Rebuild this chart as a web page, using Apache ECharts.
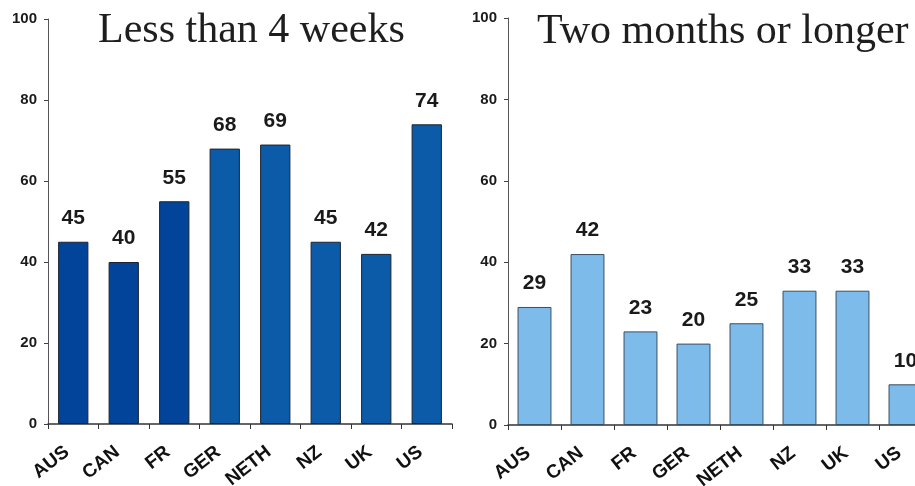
<!DOCTYPE html>
<html>
<head>
<meta charset="utf-8">
<script src="https://cdn.jsdelivr.net/npm/echarts@6/dist/echarts.min.js"></script>
<style>
  html, body { margin: 0; padding: 0; background: #ffffff; overflow: hidden; }
  #chart { width: 915px; height: 486px; }
</style>
</head>
<body>
<div id="chart"></div>
<script>
// Share of respondents by waiting time, per country
const countries = ['AUS', 'CAN', 'FR', 'GER', 'NETH', 'NZ', 'UK', 'US'];
const lessThanFourWeeks = [45, 40, 55, 68, 69, 45, 42, 74];
const twoMonthsOrLonger = [29, 42, 23, 20, 25, 33, 33, 10];
const panelTitles = ['Less than 4 weeks', 'Two months or longer'];

const axisFont = 'Liberation Sans, Arial, sans-serif';
const titleFont = 'Liberation Serif, Times New Roman, serif';

function yAxisFor(gridIndex) {
  return {
    type: 'value',
    gridIndex: gridIndex,
    min: 0,
    max: 100,
    interval: 20,
    splitLine: { show: false },
    axisLine: { show: true, lineStyle: { color: '#555', width: 1 } },
    axisTick: { show: true, length: 4, lineStyle: { color: '#444' } },
    axisLabel: {
      margin: 11,
      color: '#1a1a1a',
      fontFamily: axisFont,
      fontWeight: 'bold',
      fontSize: 15
    }
  };
}

function xAxisFor(gridIndex) {
  return {
    type: 'category',
    gridIndex: gridIndex,
    data: countries,
    axisLine: { show: true, lineStyle: { color: '#333', width: 1.5 } },
    axisTick: { show: true, length: 5, lineStyle: { color: '#333' } },
    axisLabel: {
      rotate: 38,
      margin: 21,
      padding: [0, 8, 0, 0],
      interval: 0,
      color: '#111',
      fontFamily: axisFont,
      fontWeight: 'bold',
      fontSize: 19
    }
  };
}

const valueLabel = {
  show: true,
  position: 'top',
  distance: 13,
  color: '#1a1a1a',
  fontFamily: axisFont,
  fontWeight: 'bold',
  fontSize: 21
};

const chart = echarts.init(document.getElementById('chart'), null, { renderer: 'canvas' });

chart.setOption({
  animation: false,
  backgroundColor: '#ffffff',
  title: [
    {
      text: panelTitles[0],
      left: 98,
      top: 10,
      padding: 0,
      textStyle: { fontFamily: titleFont, fontWeight: 'normal', fontSize: 42, color: '#1e1e1e' }
    },
    {
      text: panelTitles[1],
      left: 537,
      top: 11,
      padding: 0,
      textStyle: { fontFamily: titleFont, fontWeight: 'normal', fontSize: 42, color: '#1e1e1e' }
    }
  ],
  grid: [
    { left: 48, top: 19, width: 404, height: 405, outerBoundsMode: 'none', containLabel: false },
    { left: 508, top: 18, width: 424, height: 407, outerBoundsMode: 'none', containLabel: false }
  ],
  xAxis: [xAxisFor(0), xAxisFor(1)],
  yAxis: [yAxisFor(0), yAxisFor(1)],
  series: [
    {
      type: 'bar',
      xAxisIndex: 0,
      yAxisIndex: 0,
      data: lessThanFourWeeks,
      barWidth: '60%',
      itemStyle: {
        color: function (p) { return p.dataIndex < 3 ? '#02449a' : '#0b5ba8'; },
        borderColor: '#1b2433',
        borderWidth: 1
      },
      label: valueLabel
    },
    {
      type: 'bar',
      xAxisIndex: 1,
      yAxisIndex: 1,
      data: twoMonthsOrLonger,
      barWidth: '64%',
      itemStyle: {
        color: '#7cbbea',
        borderColor: '#3b4f63',
        borderWidth: 1
      },
      label: valueLabel
    }
  ]
});
</script>
</body>
</html>
